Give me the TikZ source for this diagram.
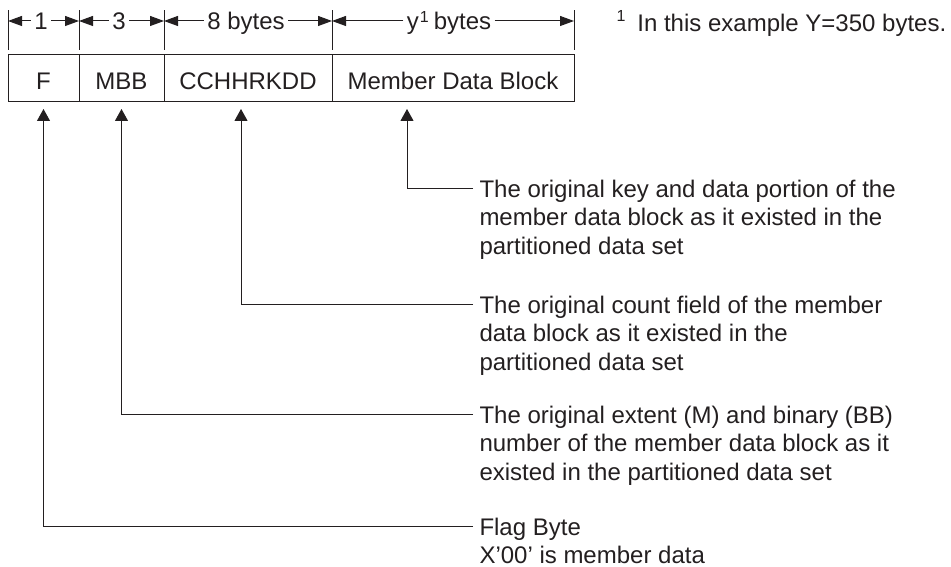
\documentclass[tikz,border=0pt]{standalone}
\usepackage{fontspec}
\setmainfont{Liberation Sans}
\usetikzlibrary{arrows.meta,positioning}
\definecolor{Ink}{HTML}{231F20}

\newcommand{\supone}{\raisebox{7pt}{\fontsize{16}{16}\selectfont 1}}
\newcommand{\fnmark}{\raisebox{10pt}{\fontsize{16}{16}\selectfont 1}}

\begin{document}
\begin{tikzpicture}[x=1pt,y=1pt,font=\fontsize{24}{28.5}\selectfont,color=Ink,line width=1pt,
    cell/.style={draw,outer sep=0pt,inner sep=0pt,minimum height=47pt,text height=23pt,text depth=0pt},
    dimlbl/.style={inner sep=3pt,text height=17pt,text depth=0pt},
    dimarrow/.style={-{Triangle[length=14pt,width=10pt]}},
    callout/.style={-{Triangle[length=12pt,width=13pt]}},
    note/.style={align=left,anchor=north west,inner sep=0pt}]
  \useasboundingbox (0,0) rectangle (951,567);
  % record layout
  \node[cell,minimum width=71pt,anchor=north west] (flag) at (8,512) {F};
  \node[cell,minimum width=85pt,right=0pt of flag] (mbb) {MBB};
  \node[cell,minimum width=168pt,right=0pt of mbb] (cchh) {CCHHRKDD};
  \node[cell,minimum width=242pt,right=0pt of cchh] (mdb) {Member Data Block};
  % length ticks
  \coordinate (t0) at ([yshift=5pt]flag.north west);
  \coordinate (t1) at ([yshift=5pt]mbb.north west);
  \coordinate (t2) at ([yshift=5pt]cchh.north west);
  \coordinate (t3) at ([yshift=5pt]mdb.north west);
  \coordinate (t4) at ([yshift=5pt]mdb.north east);
  \foreach \i in {0,...,4}
    \draw (t\i) -- ++(0,40);
  \node[dimlbl] (d1) at (41,546) {1};
  \node[dimlbl] (d2) at (119,546) {3};
  \node[dimlbl] (d3) at (246,546) {8 bytes};
  \node[dimlbl] (d4) at (449,546) {y\kern1pt\supone\kern5pt bytes};
  \draw[dimarrow] (d1.west) -- (d1 -| t0);
  \draw[dimarrow] (d1.east) -- (d1 -| t1);
  \draw[dimarrow] (d2.west) -- (d2 -| t1);
  \draw[dimarrow] (d2.east) -- (d2 -| t2);
  \draw[dimarrow] (d3.west) -- (d3 -| t2);
  \draw[dimarrow] (d3.east) -- (d3 -| t3);
  \draw[dimarrow] (d4.west) -- (d4 -| t3);
  \draw[dimarrow] (d4.east) -- (d4 -| t4);
  \node[dimlbl,anchor=west,inner sep=0pt] (fnote) at (616,544) {\fnmark\kern12pt In this example Y=350 bytes.};
  % field notes
  \coordinate (tipF) at ([yshift=-7pt]flag.south);
  \coordinate (tipM) at ([yshift=-7pt]mbb.south);
  \coordinate (tipC) at ([xshift=-7pt,yshift=-7pt]cchh.south);
  \coordinate (tipD) at ([xshift=-46pt,yshift=-7pt]mdb.south);
  \node[note] (keytxt) at (479,387.5) {The original key and data portion of the\\member data block as it existed in the\\partitioned data set};
  \node[note] (counttxt) at (479,271.5) {The original count field of the member\\data block as it existed in the\\partitioned data set};
  \node[note] (extenttxt) at (479,161.5) {The original extent (M) and binary (BB)\\number of the member data block as it\\existed in the partitioned data set};
  \node[note] (flagtxt) at (479,49.5) {Flag Byte\\X’00’ is member data};
  \draw[callout] ([xshift=-6pt,yshift=-9.5pt]keytxt.north west) -| (tipD);
  \draw[callout] ([xshift=-6pt,yshift=-9.5pt]counttxt.north west) -| (tipC);
  \draw[callout] ([xshift=-6pt,yshift=-9.5pt]extenttxt.north west) -| (tipM);
  \draw[callout] ([xshift=-6pt,yshift=-9.5pt]flagtxt.north west) -| (tipF);
\end{tikzpicture}
\end{document}
